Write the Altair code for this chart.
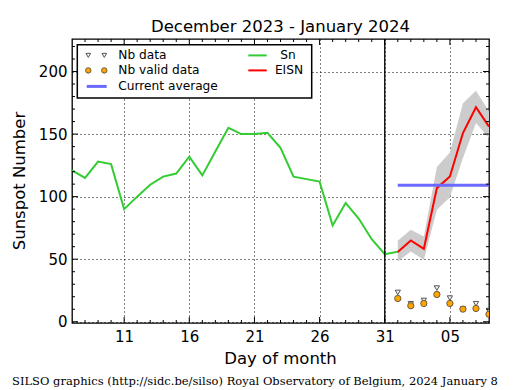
import altair as alt
import pandas as pd

# ---------------- data ----------------
sn_days = list(range(7, 33))
sn_values = [121, 115, 128, 126, 90, 100, 109.5, 116, 118.5, 132, 117, 136, 155,
             150, 150, 151, 139, 116, 114, 112, 77, 95, 82.5, 66, 54, 56]

eisn_days = [32, 33, 34, 35, 36, 37, 38, 39]
eisn_values = [55.7, 65, 58.3, 106.8, 116.1, 150.8, 171.5, 156]
eisn_low = [48.2, 56.2, 49.5, 89.5, 99.6, 130.8, 158.8, 146.8]
eisn_high = [64.7, 73.5, 68.2, 123.6, 135.3, 174.7, 184.6, 168]

nb_data = [23.4, 14.4, 17, 26.9, 18.9, 10, 14.4, 9]
nb_valid = [18.6, 12.8, 14.6, 21.8, 14.6, 10.1, 10.6, 6]

avg_start, avg_end = 32, 39
avg_value = 109.2
boundary_day = 31

x_tick_values = [11, 16, 21, 26, 31, 36]
x_minor_values = [d for d in range(8, 39) if d not in x_tick_values]
y_tick_values = [0, 50, 100, 150, 200]
y_minor_values = [v for v in range(10, 230, 10) if v not in y_tick_values]

title_text = "December 2023 - January 2024"
x_title = "Day of month"
y_title = "Sunspot Number"
footer_text = "SILSO graphics (http://sidc.be/silso) Royal Observatory of Belgium, 2024 January 8"

# ---------------- tables ----------------
sn_df = pd.DataFrame({"day": sn_days, "value": sn_values})
eisn_df = pd.DataFrame({"day": eisn_days, "value": eisn_values, "lo": eisn_low, "hi": eisn_high,
                        "nb": nb_data, "nbv": nb_valid})
avg_df = pd.DataFrame({"day": [avg_start], "day2": [avg_end], "value": [avg_value]})
bound_df = pd.DataFrame({"day": [boundary_day]})
xmaj_df = pd.DataFrame({"day": x_tick_values})
xmin_df = pd.DataFrame({"day": x_minor_values})
ymaj_df = pd.DataFrame({"value": y_tick_values})
ymin_df = pd.DataFrame({"value": y_minor_values})
one_df = pd.DataFrame({"k": [0]})

W, H = 417, 284
FONT = "DejaVu Sans"

xs = alt.Scale(domain=[7, 39], nice=False, zero=False)
ys = alt.Scale(domain=[-1, 226], nice=False, zero=False)

x_axis = alt.Axis(values=x_tick_values, title=None, grid=True, gridDash=[1, 3],
                  gridColor="black", gridWidth=1, tickSize=0, domain=False,
                  labelExpr="datum.value > 31 ? '0' + (datum.value - 31) : '' + datum.value",
                  labelFontSize=15, labelFont=FONT, labelColor="black", labelPadding=6,
                  labelFlush=False, labelOverlap=False)
y_axis = alt.Axis(values=y_tick_values, title=None, grid=True, gridDash=[1, 3],
                  gridColor="black", gridWidth=1, tickSize=0, domain=False,
                  labelFontSize=15, labelFont=FONT, labelColor="black", labelPadding=5,
                  labelFlush=False, labelOverlap=False)

X = alt.X("day:Q", scale=xs, axis=x_axis)


def Y(field):
    return alt.Y(field, scale=ys, axis=y_axis)


band = alt.Chart(eisn_df).mark_area(color="#cccccc", clip=True).encode(
    x=X, y=Y("lo:Q"), y2="hi:Q")
sn_line = alt.Chart(sn_df).mark_line(color="#33cc33", strokeWidth=2, clip=True).encode(
    x=X, y=Y("value:Q"))
eisn_line = alt.Chart(eisn_df).mark_line(color="#ff0000", strokeWidth=2, clip=True).encode(
    x=X, y=Y("value:Q"))
avg_line = alt.Chart(avg_df).mark_rule(color="#6a6aff", strokeWidth=3, clip=True).encode(
    x=X, x2="day2:Q", y=Y("value:Q"))
bound = alt.Chart(bound_df).mark_rule(color="black", strokeWidth=1.3).encode(x=X)
tri = alt.Chart(eisn_df).mark_point(shape="triangle-down", size=28, filled=True,
                                    fill="#f4f4f4", stroke="#555555", strokeWidth=1,
                                    opacity=1, clip=True).encode(x=X, y=Y("nb:Q"))
circ = alt.Chart(eisn_df).mark_point(shape="circle", size=40, filled=True,
                                     fill="#ffa500", stroke="#444444", strokeWidth=0.8,
                                     opacity=1, clip=True).encode(x=X, y=Y("nbv:Q"))

# inward ticks on all four sides
ticks = []
for df, ln in ((xmaj_df, 6), (xmin_df, 3)):
    ticks.append(alt.Chart(df).mark_rule(color="black", strokeWidth=1).encode(
        x=X, y=alt.value(H), y2=alt.value(H - ln)))
    ticks.append(alt.Chart(df).mark_rule(color="black", strokeWidth=1).encode(
        x=X, y=alt.value(0), y2=alt.value(ln)))
for df, ln in ((ymaj_df, 6), (ymin_df, 3)):
    ticks.append(alt.Chart(df).mark_rule(color="black", strokeWidth=1).encode(
        y=Y("value:Q"), x=alt.value(0), x2=alt.value(ln)))
    ticks.append(alt.Chart(df).mark_rule(color="black", strokeWidth=1).encode(
        y=Y("value:Q"), x=alt.value(W), x2=alt.value(W - ln)))


def txt(s, x, y, size, align="left", font=FONT, angle=0):
    kw = dict(align=align, baseline="middle", fontSize=size, font=font, color="black")
    if angle:
        kw["angle"] = angle
    return alt.Chart(one_df).mark_text(**kw).encode(
        x=alt.value(x), y=alt.value(y), text=alt.value(s))


# legend
leg = [
    alt.Chart(one_df).mark_rect(fill="white", stroke="black", strokeWidth=1.5).encode(
        x=alt.value(5.3), x2=alt.value(239.7), y=alt.value(5.7), y2=alt.value(59)),
]
for lx in (16.3, 32.3):
    leg.append(alt.Chart(one_df).mark_point(shape="triangle-down", size=22, filled=True,
                                            fill="#f4f4f4", stroke="#555555", strokeWidth=1,
                                            opacity=1).encode(x=alt.value(lx), y=alt.value(16.4)))
    leg.append(alt.Chart(one_df).mark_point(shape="circle", size=30, filled=True,
                                            fill="#ffa500", stroke="#444444", strokeWidth=0.8,
                                            opacity=1).encode(x=alt.value(lx), y=alt.value(31.4)))
leg.append(alt.Chart(one_df).mark_rule(color="#6a6aff", strokeWidth=3).encode(
    x=alt.value(14.7), x2=alt.value(34.7), y=alt.value(47.4)))
leg.append(alt.Chart(one_df).mark_rule(color="#33cc33", strokeWidth=2).encode(
    x=alt.value(176.3), x2=alt.value(194.7), y=alt.value(16.4)))
leg.append(alt.Chart(one_df).mark_rule(color="#ff0000", strokeWidth=2).encode(
    x=alt.value(176.3), x2=alt.value(194.7), y=alt.value(31.4)))
leg += [
    txt("Nb data", 46.3, 16.4, 12.2),
    txt("Nb valid data", 46.3, 31.4, 12.2),
    txt("Current average", 46.3, 47.4, 12.2),
    txt("Sn", 216, 16.4, 12.2, align="center"),
    txt("EISN", 217, 31.4, 12.2, align="center"),
]

labels = [
    txt(title_text, W / 2, -12, 16.5, align="center"),
    txt(x_title, W / 2, 319.5, 16.5, align="center"),
    txt(y_title, -52, H / 2, 16.5, align="center", angle=270),
    txt(footer_text, 183, 343.2, 11.5, align="center", font="DejaVu Serif"),
]

chart = alt.layer(
    band, sn_line, eisn_line, avg_line, bound, tri, circ, *ticks, *leg, *labels
).properties(
    width=W, height=H,
    autosize=alt.AutoSizeParams(type="none"),
    padding={"left": 64, "top": 31, "right": 18, "bottom": 67},
    background="white",
).configure_view(stroke="black", strokeWidth=1.3)

chart.save("out.html", embed_options={"renderer": "svg", "actions": False})
